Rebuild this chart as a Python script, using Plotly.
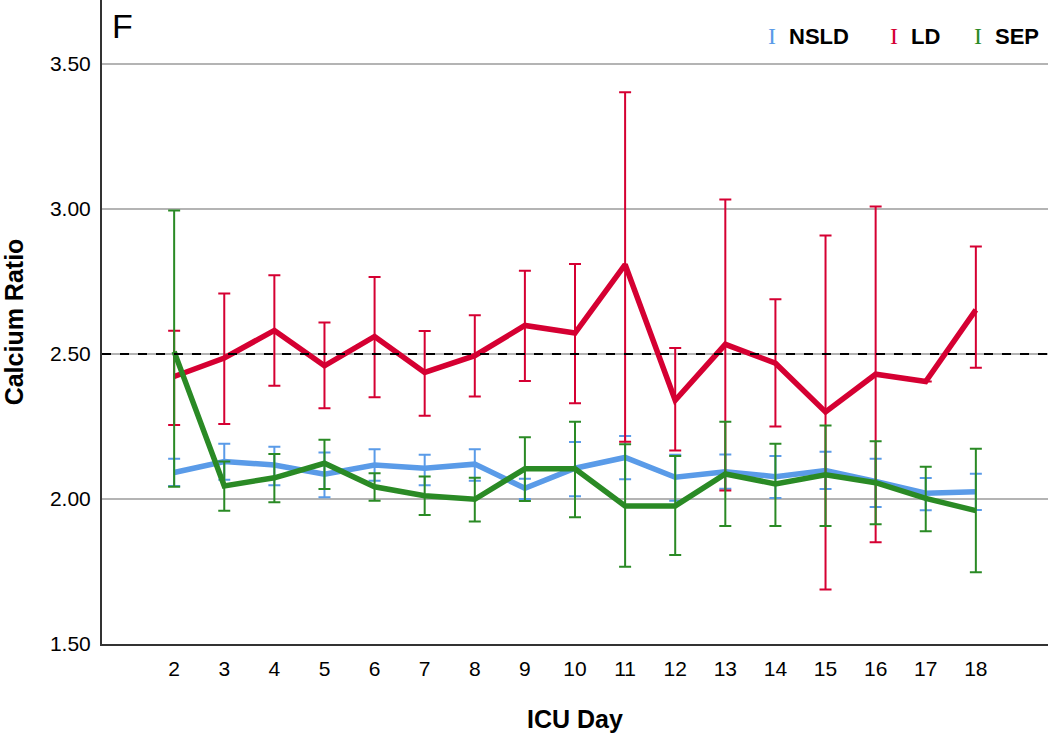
import plotly.graph_objects as go

days = list(range(2, 19))

nsld_mean = [2.091, 2.129, 2.117, 2.085, 2.117, 2.106, 2.120, 2.037, 2.106, 2.143, 2.075, 2.094, 2.077, 2.098, 2.060, 2.020, 2.025]
nsld_upper = [2.139, 2.190, 2.180, 2.160, 2.171, 2.152, 2.171, 2.070, 2.196, 2.217, 2.152, 2.153, 2.148, 2.163, 2.139, 2.072, 2.087]
nsld_lower = [2.045, 2.066, 2.047, 2.006, 2.063, 2.047, 2.063, 2.000, 2.009, 2.068, 1.994, 2.035, 2.003, 2.034, 1.972, 1.961, 1.962]

ld_mean = [2.422, 2.486, 2.581, 2.459, 2.560, 2.436, 2.494, 2.598, 2.572, 2.808, 2.340, 2.533, 2.468, 2.300, 2.430, 2.405, 2.652]
ld_upper = [2.580, 2.708, 2.771, 2.608, 2.765, 2.579, 2.633, 2.787, 2.810, 3.402, 2.520, 3.032, 2.688, 2.908, 3.008, None, 2.870]
ld_lower = [2.255, 2.258, 2.390, 2.313, 2.351, 2.287, 2.353, 2.407, 2.330, 2.197, 2.167, 2.029, 2.250, 1.688, 1.851, None, 2.452]

sep_mean = [2.508, 2.045, 2.073, 2.123, 2.042, 2.011, 1.999, 2.104, 2.104, 1.976, 1.976, 2.086, 2.052, 2.083, 2.056, 2.002, 1.960]
sep_upper = [2.994, 2.129, 2.155, 2.204, 2.089, 2.077, 2.073, 2.213, 2.266, 2.189, 2.148, 2.266, 2.190, 2.253, 2.199, 2.111, 2.173]
sep_lower = [2.042, 1.959, 1.989, 2.034, 1.994, 1.945, 1.922, 1.993, 1.937, 1.766, 1.807, 1.907, 1.907, 1.907, 1.913, 1.889, 1.747]

series_names = ["NSLD", "LD", "SEP"]
series_colors = ["#5A9BE8", "#D50032", "#2A8A25"]
reference_value = 2.50
y_ticks = [1.5, 2.0, 2.5, 3.0, 3.5]


def err(mean, up, lo):
    plus = [None if u is None else u - m for m, u in zip(mean, up)]
    minus = [None if l is None else m - l for m, l in zip(mean, lo)]
    return plus, minus


fig = go.Figure()
for name, color, m, u, l in zip(series_names, series_colors,
                                [nsld_mean, ld_mean, sep_mean],
                                [nsld_upper, ld_upper, sep_upper],
                                [nsld_lower, ld_lower, sep_lower]):
    plus, minus = err(m, u, l)
    fig.add_trace(go.Scatter(
        x=days, y=m, mode="lines", name=name,
        line=dict(color=color, width=5.5),
        error_y=dict(type="data", symmetric=False, array=plus, arrayminus=minus,
                     color=color, thickness=2, width=6),
        showlegend=False,
    ))

fig.add_shape(type="line", xref="paper", x0=0, x1=1, yref="y",
              y0=reference_value, y1=reference_value,
              line=dict(color="black", width=2, dash="dash"))

fig.update_layout(
    width=1050, height=736,
    margin=dict(l=102, r=2, t=0, b=92),
    paper_bgcolor="white", plot_bgcolor="white",
    font=dict(family="Liberation Sans, Arial", size=21, color="black"),
    xaxis=dict(range=[0.56, 19.44], tickmode="array", tickvals=days,
               ticktext=[str(d) for d in days], showgrid=False,
               showline=True, linecolor="#333333", linewidth=2, ticks="",
               zeroline=False, tickfont=dict(size=21), ticklabelstandoff=5,
               title=dict(text="<b>ICU Day</b>", font=dict(size=25), standoff=31)),
    yaxis=dict(range=[1.5, 3.72], tickmode="array", tickvals=y_ticks,
               tickformat=".2f", showgrid=True, gridcolor="#b4b4b4", gridwidth=1.5,
               showline=True, linecolor="#333333", linewidth=2, ticks="",
               zeroline=False, tickfont=dict(size=21), ticklabelstandoff=5,
               title=dict(text="<b>Calcium Ratio</b>", font=dict(size=25), standoff=30)),
)

plot_w = 1050 - 102 - 2
leg_x = [772, 894, 978]
leg_y = 1 - 36 / 644
for name, color, lx in zip(series_names, series_colors, leg_x):
    fig.add_annotation(x=(lx - 102) / plot_w, xref="paper", y=leg_y, yref="paper",
                       text="I", showarrow=False, xanchor="center", yanchor="middle",
                       font=dict(family="Liberation Serif", size=24, color=color))
    fig.add_annotation(x=(lx + 15 - 102) / plot_w, xref="paper", y=leg_y, yref="paper",
                       text="<b>" + name + "</b>", showarrow=False, xanchor="left",
                       yanchor="middle", font=dict(size=22, color="black"))

fig.add_annotation(x=(110 - 102) / plot_w, xref="paper", y=1 - 26 / 644, yref="paper",
                   text="F", showarrow=False, xanchor="left", yanchor="middle",
                   font=dict(size=34, color="black"))

fig.write_html("out.html", config={"displayModeBar": False},
               post_script="document.body.style.margin='0';")
